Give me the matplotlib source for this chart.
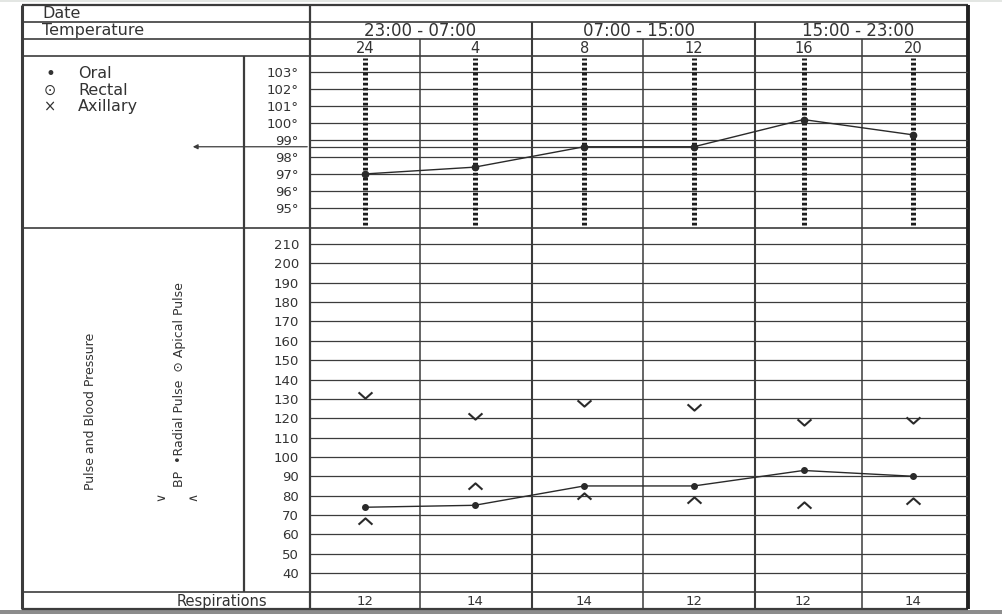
import matplotlib
matplotlib.use("Agg")
import matplotlib.pyplot as plt
from matplotlib.path import Path
from matplotlib.transforms import blended_transform_factory

W, H = 1002, 614

# chart values
hours = ["24", "4", "8", "12", "16", "20"]
shifts = ["23:00 - 07:00", "07:00 - 15:00", "15:00 - 23:00"]
temperature = [97.0, 97.4, 98.6, 98.6, 100.2, 99.3]
pulse = [74, 75, 85, 85, 93, 90]
bp_systolic = [132, 121, 128, 126, 118, 119]
bp_diastolic = [67, 85, 80, 78, 75, 77]
respirations = ["12", "14", "14", "12", "12", "14"]
temp_ticks = [95, 96, 97, 98, 99, 100, 101, 102, 103]
pulse_ticks = [40, 50, 60, 70, 80, 90, 100, 110, 120, 130, 140, 150,
               160, 170, 180, 190, 200, 210]
normal_temp = 98.6
legend_marks = ["•", "⊙", "×"]
legend_names = ["Oral", "Rectal", "Axillary"]

INK = "#333333"
LINE = "#3c3c3c"

# sheet layout in pixels
X_LEFT, X_LAB, X_DATA, X_RIGHT = 22, 244, 310, 968
Y_TOP, Y_DATE, Y_TEMP, Y_HOUR, Y_MID, Y_RESP, Y_BOT = 5, 22, 39, 56, 228, 592, 609
col_edges = [310, 420, 532, 643, 755, 862, 968]

fig = plt.figure(figsize=(W / 100, H / 100), dpi=100)
fig.patch.set_facecolor("white")

bg = fig.add_axes([0, 0, 1, 1], zorder=0)
bg.set_xlim(0, W)
bg.set_ylim(H, 0)
bg.axis("off")


def fig_box(y0, y1):
    return [X_DATA / W, 1 - y1 / H, (X_RIGHT - X_DATA) / W, (y1 - y0) / H]


ax_t = fig.add_axes(fig_box(Y_HOUR, Y_MID), zorder=2)
ax_p = fig.add_axes(fig_box(Y_MID, Y_RESP), zorder=2)
for ax in (ax_t, ax_p):
    ax.set_facecolor("none")
    ax.set_xlim(0, len(hours))
    ax.set_xticks([])
    for s in ax.spines.values():
        s.set_visible(False)
    ax.tick_params(axis="y", length=0, pad=8, labelsize=9.5, labelcolor=INK)

ax_t.set_ylim(93.82, 103.94)
ax_p.set_ylim(30.2, 218.3)
ax_t.set_yticks(temp_ticks, labels=[f"{t}°" for t in temp_ticks])
ax_p.set_yticks(pulse_ticks, labels=[str(t) for t in pulse_ticks])

xs = [i + 0.5 for i in range(len(hours))]

# ruled lines
for t in temp_ticks:
    ax_t.axhline(t, color=LINE, lw=0.9, zorder=1)
ax_t.axhline(normal_temp, color=LINE, lw=0.9, zorder=1)
ax_t.annotate("", xy=(190, normal_temp), xytext=(X_DATA, normal_temp),
              xycoords=("figure pixels", "data"), textcoords=("figure pixels", "data"),
              arrowprops=dict(arrowstyle="-|>", color=LINE, lw=0.9, mutation_scale=7),
              annotation_clip=False)
for p in pulse_ticks:
    ax_p.axhline(p, color=LINE, lw=0.9, zorder=1)

# heavy dotted hour lines in temperature block
ax_t.vlines(xs, 94.0, 103.82, colors="#1e1e1e", lw=3.6,
            linestyles=(0, (0.55, 0.45)), zorder=2)

# temperature trace
ax_t.plot(xs, temperature, color="#2a2a2a", lw=1.0, marker="o", ms=4.5, zorder=4)

# pulse trace and blood pressure chevrons
ax_p.plot(xs, pulse, color="#2a2a2a", lw=1.0, marker="o", ms=4, zorder=4)
vee = Path([(-1, 0.45), (0, -0.45), (1, 0.45)], [Path.MOVETO, Path.LINETO, Path.LINETO])
wedge = Path([(-1, -0.45), (0, 0.45), (1, -0.45)], [Path.MOVETO, Path.LINETO, Path.LINETO])
ax_p.plot(xs, bp_systolic, ls="none", marker=vee, ms=10, mfc="none",
          mec="#2a2a2a", mew=1.5, zorder=4)
ax_p.plot(xs, bp_diastolic, ls="none", marker=wedge, ms=10, mfc="none",
          mec="#2a2a2a", mew=1.5, zorder=4)

# table frame
bg.hlines([Y_TOP, Y_BOT], X_LEFT, X_RIGHT, color=LINE, lw=1.6)
bg.hlines([Y_DATE, Y_TEMP, Y_HOUR, Y_MID, Y_RESP], X_LEFT, X_RIGHT, color=LINE, lw=1.2)
bg.vlines(X_LEFT, Y_TOP, Y_BOT, color=LINE, lw=2.2)
bg.vlines(X_RIGHT, Y_TOP, Y_BOT, color="#222222", lw=2.8)
bg.vlines(X_DATA, Y_TOP, Y_BOT, color=LINE, lw=1.6)
bg.vlines(X_LAB, Y_HOUR, Y_RESP, color=LINE, lw=1.6)
bg.vlines([col_edges[2], col_edges[4]], Y_DATE, Y_BOT, color=LINE, lw=1.5)
bg.vlines([col_edges[1], col_edges[3], col_edges[5]], Y_TEMP, Y_BOT, color=LINE, lw=1.1)

# header text
bg.text(42, 14, "Date", fontsize=11.5, color=INK, va="center")
bg.text(42, 31, "Temperature", fontsize=11.5, color=INK, va="center")
bg.text(222, (Y_RESP + Y_BOT) / 2 + 1, "Respirations",
        fontsize=10.5, color=INK, ha="center", va="center")

tx_hdr = blended_transform_factory(ax_t.transData, bg.transData)
for i, s in enumerate(shifts):
    bg.text(2 * i + 1, (Y_DATE + Y_TEMP) / 2 + 1, s, transform=tx_hdr,
            fontsize=12, color=INK, ha="center", va="center")
for x, h in zip(xs, hours):
    bg.text(x, (Y_TEMP + Y_HOUR) / 2 + 1, h, transform=tx_hdr,
            fontsize=10.5, color=INK, ha="center", va="center")
for x, r in zip(xs, respirations):
    bg.text(x, (Y_RESP + Y_BOT) / 2 + 1, r, transform=tx_hdr,
            fontsize=9.5, color=INK, ha="center", va="center")

# temperature legend
for k, (m, name) in enumerate(zip(legend_marks, legend_names)):
    y = 74 + 16.5 * k
    bg.text(50, y, m, fontsize=10.5 if m != "•" else 12, color=INK, ha="center", va="center")
    bg.text(78, y, name, fontsize=11.5, color=INK, va="center")

# rotated side labels
bg.text(91, 411, "Pulse and Blood Pressure", rotation=90,
        fontsize=9, color=INK, ha="center", va="center")
bg.text(180, 487, "BP  •Radial Pulse  ⊙ Apical Pulse", rotation=90,
        fontsize=9, color=INK, ha="center", va="bottom")
bg.text(161, 496, "∨", rotation=90, fontsize=9, color=INK, ha="center", va="center")
bg.text(193, 496, "∧", rotation=90, fontsize=9, color=INK, ha="center", va="center")

# scanner edge
bg.axhspan(H - 4, H, color="#8c8c8c", lw=0)
bg.axhspan(0, 2, color="#e3e6e3", lw=0)

fig.savefig("out.png", dpi=100)
